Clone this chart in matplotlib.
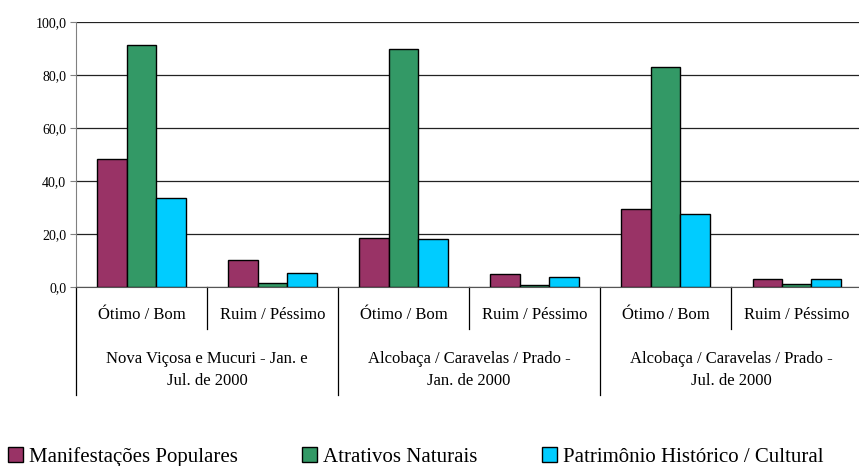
import matplotlib
matplotlib.use("Agg")

import matplotlib.pyplot as plt
import numpy as np
from matplotlib.patches import Patch
from matplotlib.ticker import FuncFormatter

# données (%)
categorias = ["Ótimo / Bom", "Ruim / Péssimo"] * 3
grupos = ["Nova Viçosa e Mucuri - Jan. e\nJul. de 2000",
          "Alcobaça / Caravelas / Prado -\nJan. de 2000",
          "Alcobaça / Caravelas / Prado -\nJul. de 2000"]
series = ["Manifestações Populares", "Atrativos Naturais",
          "Patrimônio Histórico / Cultural"]
manifestacoes = [48.2, 10.3, 18.6, 5.0, 29.5, 3.0]
atrativos = [91.4, 1.5, 89.9, 0.8, 83.0, 1.4]
patrimonio = [33.7, 5.5, 18.1, 4.0, 27.5, 3.0]
cores = ["#993366", "#339966", "#00CCFF"]

plt.rcParams["font.family"] = ["Liberation Serif", "DejaVu Serif"]

fig = plt.figure(figsize=(8.59, 4.66), dpi=100)
ax = fig.add_axes([76 / 859, 1 - 287.3 / 466, 1 - 76 / 859, 265.3 / 466])

x = np.arange(len(categorias))
w = 0.225
for k, (vals, cor) in enumerate(zip([manifestacoes, atrativos, patrimonio], cores)):
    ax.bar(x + (k - 1) * w, vals, w, color=cor, edgecolor="black", linewidth=1, zorder=3)

ax.set_ylim(0, 100)
ax.set_xlim(-0.5, 5.475)
ax.set_yticks(np.arange(0, 101, 20))
ax.yaxis.set_major_formatter(FuncFormatter(lambda v, p: f"{v:.1f}".replace(".", ",")))
ax.tick_params(axis="y", labelsize=10, length=4, color="#808080", pad=3)
ax.grid(axis="y", color="#222222", linewidth=0.9, zorder=0)
ax.set_xticks([])
for s in ["top", "right"]:
    ax.spines[s].set_visible(False)
ax.spines["left"].set_color("#808080")
ax.spines["bottom"].set_color("#555555")

# eixo de categorias em dois níveis
tr = ax.get_xaxis_transform()
for xi in [0.5, 2.5, 4.5]:
    ax.plot([xi, xi], [0, -0.157], color="black", lw=0.9, transform=tr, clip_on=False)
for xi in [-0.5, 1.5, 3.5]:
    ax.plot([xi, xi], [0, -0.406], color="black", lw=0.9, transform=tr, clip_on=False)
for xi, cat in zip(x, categorias):
    ax.text(xi, -0.104, cat, transform=tr, ha="center", va="center", fontsize=12)
for gi, g in enumerate(grupos):
    ax.text(2 * gi + 0.5, -0.31, g, transform=tr, ha="center", va="center",
            fontsize=12, linespacing=1.5)

handles = [Patch(facecolor=c, edgecolor="black", linewidth=1) for c in cores]
fig.legend(handles, series, loc="center left", bbox_to_anchor=(8 / 859, 0.02), ncol=3,
           frameon=False, fontsize=15, handlelength=0.7, handleheight=0.7,
           handletextpad=0.3, columnspacing=3.1, borderaxespad=0, borderpad=0)

fig.savefig("out.png", dpi=100)
